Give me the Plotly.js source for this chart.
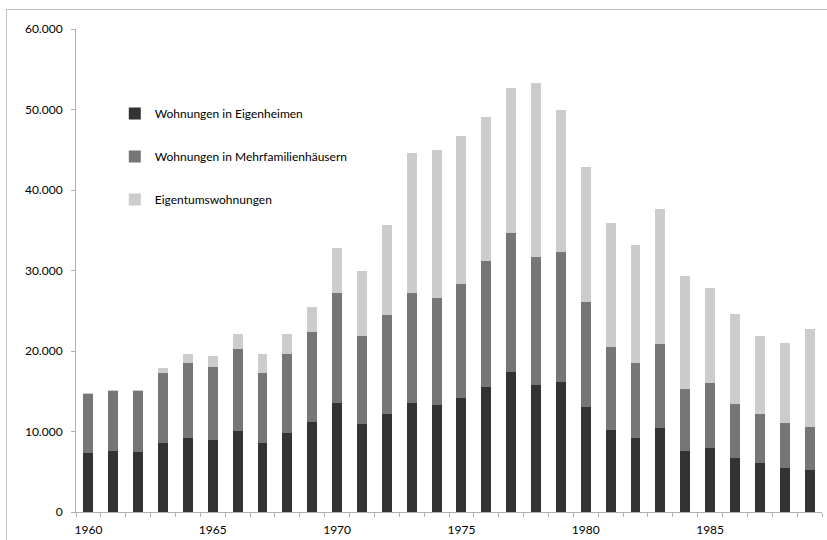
<!DOCTYPE html>
<html>
<head>
<meta charset="utf-8">
<script src="https://cdn.plot.ly/plotly-3.0.1.min.js"></script>
<style>
  html, body { margin: 0; padding: 0; background: #ffffff; }
  #wrap { position: relative; width: 827px; height: 540px; overflow: hidden; }
  #chart { width: 827px; height: 540px; }
  #frame { position: absolute; left: 6px; top: 9px; width: 900px; height: 600px;
           border: 1px solid #c0c0c0; pointer-events: none; box-sizing: border-box; }
</style>
</head>
<body>
<div id="wrap">
  <div id="chart"></div>
  <div id="frame"></div>
</div>
<script>
const years = [1960,1961,1962,1963,1964,1965,1966,1967,1968,1969,
               1970,1971,1972,1973,1974,1975,1976,1977,1978,1979,
               1980,1981,1982,1983,1984,1985,1986,1987,1988,1989];

const eigenheime = [7350,7520,7430,8550,9210,8970,10120,8550,9830,11160,
                    13560,10950,12200,13600,13270,14140,15510,17370,15800,16130,
                    13020,10170,9210,10410,7560,7970,6690,6070,5450,5280];

const mehrfamilien = [7290,7570,7580,8700,9240,9060,10150,8700,9860,11220,
                      13670,10890,12300,13630,13340,14160,15610,17350,15820,16110,
                      13090,10310,9320,10520,7660,8080,6710,6130,5550,5340];

const eigentum = [150,90,170,580,1120,1410,1900,2440,2400,3060,
                  5590,8160,11180,17390,18300,18470,17890,18010,21660,17760,
                  16770,15450,14660,16730,14040,11800,11220,9610,9940,12170];

const seriesNames = ["Wohnungen in Eigenheimen",
                     "Wohnungen in Mehrfamilienhäusern",
                     "Eigentumswohnungen"];
const seriesColors = ["#333333", "#767676", "#cccccc"];
const yTicks = [0,10000,20000,30000,40000,50000,60000];
const xLabelYears = [1960,1965,1970,1975,1980,1985];

const font = "Lato, 'Open Sans', sans-serif";
const values = [eigenheime, mehrfamilien, eigentum];

const traces = values.map((v, i) => ({
  type: "bar",
  x: years,
  y: v,
  name: seriesNames[i],
  legendgroup: "g" + i,
  marker: { color: seriesColors[i], line: { width: 0 } },
  hoverinfo: "x+y+name"
}));

const layout = {
  width: 827,
  height: 540,
  margin: { l: 76, r: 5, t: 29, b: 28, pad: 0 },
  paper_bgcolor: "rgba(0,0,0,0)",
  plot_bgcolor: "rgba(0,0,0,0)",
  separators: ",.",
  barmode: "stack",
  bargap: 0.6,
  font: { family: font, size: 12, color: "#000000" },
  showlegend: true,
  legend: {
    x: 0.052, y: 0.855, xanchor: "left", yanchor: "top",
    traceorder: "grouped",
    tracegroupgap: 24,
    bgcolor: "rgba(0,0,0,0)",
    borderwidth: 0,
    itemwidth: 30,
    font: { family: font, size: 12, color: "#000000" }
  },
  xaxis: {
    type: "linear",
    range: [1959.5, 1989.5],
    tickmode: "array",
    tickvals: xLabelYears,
    ticktext: xLabelYears.map(String),
    ticks: "outside",
    ticklen: 7,
    tickcolor: "rgba(0,0,0,0)",
    showgrid: false,
    zeroline: false,
    showline: true,
    linecolor: "#b0b0b0",
    linewidth: 1,
    tickfont: { family: font, size: 12, color: "#000000" },
    minor: {
      tickmode: "linear",
      tick0: 1959.5,
      dtick: 1,
      ticks: "outside",
      ticklen: 4,
      tickcolor: "#b0b0b0",
      tickwidth: 1,
      showgrid: false
    },
    fixedrange: true
  },
  yaxis: {
    range: [0, 60000],
    tickmode: "array",
    tickvals: yTicks,
    tickformat: ",d",
    ticks: "outside",
    ticklen: 4,
    tickcolor: "#b0b0b0",
    tickwidth: 1,
    showgrid: false,
    zeroline: false,
    showline: true,
    linecolor: "#b0b0b0",
    linewidth: 1,
    ticklabelstandoff: 6,
    tickfont: { family: font, size: 12, color: "#000000" },
    fixedrange: true
  }
};

Plotly.newPlot("chart", traces, layout, { displayModeBar: false, staticPlot: true });
</script>
</body>
</html>
